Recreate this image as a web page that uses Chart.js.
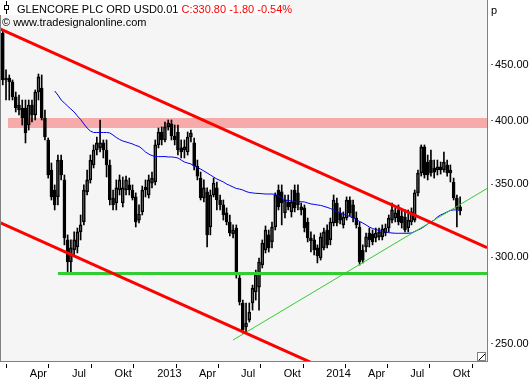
<!DOCTYPE html>
<html>
<head>
<meta charset="utf-8">
<script src="https://cdn.jsdelivr.net/npm/chart.js@4.4.1/dist/chart.umd.min.js"></script>
<style>
  html, body { margin: 0; padding: 0; background: #fff; }
  canvas { display: block; }
</style>
</head>
<body>
<canvas id="chart" width="531" height="380"></canvas>
<script>
// weekly candles, first week and then one every 7 days
const firstWeek = '2012-02-07';

const open = [481.1, 435.8, 437.6, 434.0, 420.5, 413.4, 410.8, 410.8, 396.4, 413.4,
  404.8, 424.9, 428.5, 402.3, 384.1, 360.6, 345.7, 340.7, 368.2, 353.1,
  311.2, 297.1, 304.7, 306.6, 316.5, 323.2, 344.3, 353.1, 364.4, 376.1,
  377.7, 381.7, 376.1, 364.4, 339.9, 336.4, 345.7, 336.4, 345.7, 349.4,
  345.7, 340.7, 324.5, 330.1, 347.9, 342.1, 350.8, 351.6, 380.1, 390.6,
  384.1, 394.8, 397.3, 387.3, 390.6, 377.7, 376.1, 374.5, 386.5, 381.7,
  363.6, 354.5, 339.9, 344.3, 319.8, 342.1, 347.2, 338.5, 335.0, 329.4,
  323.2, 315.2, 319.1, 287.2, 272.5, 259.1, 262.9, 272.5, 278.9, 281.8,
  295.2, 304.7, 314.5, 309.9, 319.8, 345.7, 344.3, 329.4, 337.1, 330.1,
  345.7, 343.6, 331.5, 332.9, 323.2, 312.5, 311.2, 306.0, 299.6, 306.0,
  317.8, 311.2, 322.5, 336.4, 329.4, 321.2, 325.9, 338.5, 335.0, 325.9,
  319.8, 304.7, 306.6, 315.8, 315.2, 312.5, 313.2, 313.2, 315.8, 319.1,
  324.5, 325.9, 331.5, 327.3, 326.6, 319.1, 323.2, 324.5, 343.6, 358.3,
  378.5, 366.7, 368.2, 362.1, 360.6, 362.9, 360.6, 364.4, 358.3, 351.6,
  339.9, 333.6];

const high = [484.2, 445.1, 440.4, 435.8, 424.9, 422.2, 417.8, 417.8, 417.8, 417.8,
  426.7, 441.3, 440.4, 409.1, 385.7, 365.9, 349.4, 372.1, 372.1, 356.8,
  314.5, 311.2, 316.5, 319.1, 328.0, 349.4, 360.6, 372.1, 380.1, 386.5,
  400.6, 384.1, 384.1, 368.2, 345.7, 353.1, 356.8, 355.3, 356.0, 354.5,
  349.4, 343.6, 335.0, 348.6, 353.1, 356.8, 359.0, 384.1, 393.9, 394.8,
  398.9, 400.6, 400.6, 396.4, 396.4, 384.1, 384.1, 390.6, 392.2, 385.7,
  368.2, 359.0, 353.1, 347.2, 345.7, 354.5, 351.6, 342.1, 338.5, 332.9,
  328.0, 321.2, 321.2, 289.1, 274.2, 272.5, 272.5, 283.0, 292.1, 299.6,
  311.2, 320.5, 317.8, 323.2, 343.6, 349.4, 349.4, 342.1, 342.1, 345.7,
  349.4, 349.4, 336.4, 335.0, 325.9, 316.5, 314.5, 308.0, 315.8, 319.1,
  321.2, 325.9, 342.1, 339.9, 332.9, 330.1, 340.7, 340.7, 338.5, 330.1,
  323.2, 308.0, 315.8, 319.1, 317.8, 319.1, 319.1, 321.2, 321.8, 328.0,
  336.4, 332.9, 335.0, 331.5, 331.5, 331.5, 332.9, 345.7, 360.6, 380.1,
  380.1, 372.1, 376.1, 368.2, 368.2, 366.7, 374.5, 368.2, 364.4, 354.5,
  342.1, 340.7];

const low = [431.3, 417.8, 417.8, 417.8, 407.4, 404.8, 396.4, 381.7, 392.2, 398.9,
  400.6, 417.8, 400.6, 384.1, 354.5, 338.5, 331.5, 335.0, 353.1, 308.0,
  290.3, 290.3, 301.5, 302.8, 311.2, 321.2, 342.1, 350.8, 362.1, 372.1,
  374.5, 369.8, 355.3, 335.0, 331.5, 331.5, 342.1, 333.6, 342.1, 342.1,
  338.5, 319.8, 322.5, 328.0, 340.7, 339.9, 347.2, 349.4, 377.7, 380.1,
  382.5, 392.2, 384.1, 380.1, 372.1, 369.8, 369.8, 372.1, 382.5, 360.6,
  353.1, 338.5, 337.1, 306.6, 314.5, 340.7, 331.5, 331.5, 324.5, 321.2,
  313.9, 312.5, 287.2, 271.4, 255.8, 256.4, 261.8, 268.5, 274.2, 268.5,
  293.4, 302.8, 303.4, 306.0, 317.8, 331.5, 321.2, 325.9, 331.5, 326.6,
  330.1, 331.5, 328.0, 316.5, 309.9, 303.4, 301.5, 296.5, 298.3, 304.7,
  306.0, 308.0, 320.5, 320.5, 321.8, 319.1, 324.5, 327.3, 323.2, 319.1,
  295.2, 296.5, 303.4, 306.6, 308.0, 309.9, 311.2, 311.2, 313.9, 316.5,
  322.5, 323.2, 321.2, 319.1, 316.5, 316.5, 321.2, 323.2, 341.4, 356.0,
  354.5, 353.1, 356.0, 354.5, 356.8, 357.5, 359.0, 356.0, 351.6, 338.5,
  319.8, 328.0];

const close = [435.8, 437.6, 434.0, 420.5, 410.8, 409.1, 402.3, 389.8, 413.4, 404.8,
  424.9, 438.6, 402.3, 386.5, 356.8, 340.7, 335.0, 368.2, 356.8, 312.5,
  297.1, 306.0, 311.2, 316.5, 321.2, 345.7, 353.1, 368.2, 376.1, 381.7,
  381.7, 376.1, 364.4, 338.5, 335.0, 347.2, 353.1, 347.2, 353.1, 345.7,
  339.9, 323.2, 328.7, 345.7, 345.7, 353.1, 354.5, 380.1, 390.6, 384.1,
  394.8, 398.1, 387.3, 384.1, 376.1, 374.5, 378.5, 386.5, 389.8, 363.6,
  356.0, 339.9, 347.2, 314.5, 342.1, 350.8, 338.5, 335.0, 328.0, 323.2,
  315.8, 317.8, 289.1, 273.1, 257.5, 261.3, 267.4, 281.2, 289.1, 297.1,
  309.2, 317.8, 306.0, 319.8, 342.1, 333.6, 336.4, 338.5, 333.6, 337.1,
  332.9, 335.0, 333.6, 319.1, 312.5, 310.5, 304.7, 300.9, 313.2, 316.5,
  308.0, 323.2, 338.5, 322.5, 324.5, 326.6, 338.5, 329.4, 325.9, 321.2,
  297.1, 298.3, 313.2, 311.2, 309.9, 315.8, 316.5, 318.5, 319.1, 325.9,
  331.5, 329.4, 323.2, 322.5, 317.8, 324.5, 330.1, 343.6, 358.3, 378.5,
  356.8, 356.8, 358.3, 359.0, 362.9, 360.6, 366.7, 358.3, 360.6, 339.9,
  332.6, 330.8];

// blue moving average, starts at week 16
const movingAvg = [null, null, null, null, null, null, null, null, null, null,
  null, null, null, null, null, null,
  425.8, 422.2, 417.8, 415.2, 412.5, 409.9, 407.4, 404.0, 401.0, 397.3,
  393.9, 391.4, 390.2, 390.2, 390.2, 390.2, 390.2, 389.8, 388.1, 386.1,
  384.5, 383.3, 382.5, 381.7, 380.9, 379.7, 378.9, 376.9, 374.5, 372.9,
  371.7, 370.9, 370.9, 370.9, 370.9, 370.6, 370.6, 370.3, 369.8, 368.2,
  366.7, 365.9, 365.2, 363.6, 362.5, 361.3, 359.8, 358.3, 356.8, 355.3,
  353.8, 352.7, 351.6, 350.1, 349.0, 347.9, 346.8, 346.4, 345.7, 344.6,
  343.9, 343.6, 343.3, 343.2, 343.0, 342.8, 342.8, 342.8, 342.5, 341.4,
  339.9, 338.5, 338.2, 337.8, 337.5, 337.3, 337.3, 337.1, 336.4, 335.7,
  335.4, 335.0, 334.7, 334.0, 333.3, 332.5, 331.5, 330.4, 329.4, 328.4,
  327.7, 327.0, 325.9, 324.9, 323.5, 322.5, 321.2, 319.8, 318.8, 318.1,
  317.5, 316.8, 316.5, 316.0, 315.8, 315.6, 315.6, 315.6, 315.6, 315.6,
  315.8, 316.8, 317.8, 318.8, 320.2, 321.8, 323.2, 324.5, 326.6, 328.0,
  329.0, 330.1, 331.1, 331.5, 331.5, 331.5];

const tickDates = ['2012-04-01', '2012-07-01', '2012-10-01', '2013-01-01', '2013-04-01', '2013-07-01',
  '2013-10-01', '2014-01-01', '2014-04-01', '2014-07-01', '2014-10-01'];
const tickLabels = ['Apr', 'Jul', 'Okt', '2013', 'Apr', 'Jul', 'Okt', '2014', 'Apr', 'Jul', 'Okt'];
const priceTicks = [250, 300, 350, 400, 450];

// drawn lines: [value at start, value at end]
const upperChannel = [485.2, 306.2];
const lowerChannel = [322.7, 203.6];
const supportLevel = 290.0, supportFrom = '2012-06-05';
const trendLine = [252.1, 346.8], trendFrom = '2013-06-18';
const resistanceBand = [393.9, 402.3], bandFrom = '2012-02-18';
const xFrom = '2012-02-01', xTo = '2014-12-18';
const yFrom = 241.2, yTo = 515.7;

const day = s => (Date.parse(s) - Date.parse('2013-01-01')) / 864e5;
const weeks = close.map((c, i) => day(firstWeek) + 7 * i);
const seg = (from, to, a, b) => [{ x: day(from), y: a }, { x: day(to), y: b }];

const FONT = '"Liberation Sans", Arial, sans-serif';
Chart.defaults.font.family = FONT;
Chart.defaults.font.size = 11;
Chart.defaults.color = '#000';

const frame = {
  id: 'frame',
  beforeDraw(chart) {
    const { ctx, chartArea: a } = chart;
    ctx.save();
    ctx.fillStyle = '#fff';
    ctx.fillRect(0, 0, chart.width, chart.height);
    ctx.fillStyle = '#f5f5f5';
    ctx.fillRect(a.left, a.top, a.right - a.left, a.bottom - a.top);
    ctx.restore();
  },
  afterDraw(chart) {
    const { ctx, chartArea: a } = chart;
    ctx.save();
    ctx.strokeStyle = '#808080';
    ctx.lineWidth = 1;
    ctx.beginPath();
    ctx.moveTo(a.left + 0.5, a.top);
    ctx.lineTo(a.left + 0.5, a.bottom);
    ctx.stroke();

    // title box
    ctx.fillStyle = '#fff';
    ctx.fillRect(0, 0, 281, 15);
    ctx.strokeStyle = '#000';
    ctx.beginPath();
    ctx.moveTo(6.5, 1); ctx.lineTo(6.5, 14);
    ctx.stroke();
    ctx.fillStyle = '#fff';
    ctx.fillRect(4, 5, 5, 5);
    ctx.strokeRect(4.5, 5.5, 4, 4);

    ctx.font = '11px ' + FONT;
    ctx.textBaseline = 'alphabetic';
    ctx.fillStyle = '#000';
    const name = 'GLENCORE PLC ORD USD0.01 ';
    ctx.fillText(name, 17, 13);
    ctx.fillStyle = '#ff0000';
    ctx.fillText('C:330.80 -1.80 -0.54%', 17 + ctx.measureText(name).width, 13);
    ctx.fillStyle = '#000';
    ctx.fillText('\u00a9 www.tradesignalonline.com', 2, 26);
    ctx.fillText('p', a.right + 4, 14);

    // resize grip
    ctx.fillStyle = '#fff';
    ctx.fillRect(a.right - 10, a.bottom - 9, 9, 9);
    ctx.strokeStyle = '#808080';
    ctx.strokeRect(a.right - 9.5, a.bottom - 8.5, 8, 8);
    ctx.strokeStyle = '#000';
    ctx.beginPath();
    ctx.moveTo(a.right - 8, a.bottom - 1);
    ctx.lineTo(a.right - 2, a.bottom - 7);
    ctx.stroke();
    ctx.restore();
  }
};

const line = (data, color, width, order) => ({
  type: 'line', data, borderColor: color, borderWidth: width,
  pointRadius: 0, tension: 0, fill: false, order
});

const bar = (data, thick, extra) => Object.assign({
  type: 'bar', data, barThickness: thick, grouped: false, borderSkipped: false
}, extra);

new Chart(document.getElementById('chart'), {
  data: {
    datasets: [
      Object.assign(line(seg(bandFrom, xTo, resistanceBand[1], resistanceBand[1]), 'rgba(0,0,0,0)', 0, 20),
        { fill: '+1', backgroundColor: '#f6aaaa' }),
      line(seg(bandFrom, xTo, resistanceBand[0], resistanceBand[0]), 'rgba(0,0,0,0)', 0, 19),
      bar(weeks.map((x, i) => ({ x, y: [low[i], Math.min(open[i], close[i])] })), 1,
        { backgroundColor: '#000', borderWidth: 0, order: 10 }),
      bar(weeks.map((x, i) => ({ x, y: [Math.max(open[i], close[i]), high[i]] })), 1,
        { backgroundColor: '#000', borderWidth: 0, order: 10 }),
      bar(weeks.map((x, i) => ({ x, y: [open[i], close[i]] })), 3, {
        backgroundColor: close.map((c, i) => c >= open[i] ? 'rgba(0,0,0,0)' : '#000'),
        borderColor: '#000', borderWidth: 1, order: 9
      }),
      line(weeks.map((x, i) => ({ x, y: movingAvg[i] })), '#0000ee', 1, 5),
      line(seg(trendFrom, xTo, trendLine[0], trendLine[1]), '#33cc33', 1, 4),
      line(seg(supportFrom, xTo, supportLevel, supportLevel), '#33cc33', 3, 3),
      line(seg(xFrom, xTo, upperChannel[0], upperChannel[1]), '#ff0000', 3, 2),
      line(seg(xFrom, xTo, lowerChannel[0], lowerChannel[1]), '#ff0000', 3, 2)
    ]
  },
  options: {
    responsive: false,
    devicePixelRatio: 1,
    animation: false,
    events: [],
    layout: { padding: 0 },
    plugins: { legend: { display: false }, tooltip: { enabled: false } },
    scales: {
      x: {
        type: 'linear', offset: false,
        min: day(xFrom), max: day(xTo),
        afterBuildTicks: s => { s.ticks = tickDates.map(d => ({ value: day(d) })); },
        afterFit: s => { s.height = 19; s.paddingLeft = 0; s.paddingRight = 0; },
        grid: {
          drawOnChartArea: false, tickLength: 7, tickColor: '#000',
          tickBorderDash: [0, 2, 5, 20]
        },
        border: { display: true, color: '#808080' },
        ticks: {
          autoSkip: false, maxRotation: 0, align: 'start', labelOffset: 2, padding: 0,
          font: { size: 11, lineHeight: 1 },
          callback: (v, i) => tickLabels[i]
        }
      },
      y: {
        type: 'logarithmic', position: 'right',
        min: yFrom, max: yTo,
        afterBuildTicks: s => { s.ticks = priceTicks.map(v => ({ value: v })); },
        afterFit: s => { s.width = 44; s.paddingTop = 0; s.paddingBottom = 0; },
        grid: {
          drawOnChartArea: false, tickLength: 6, tickColor: '#606060',
          tickBorderDash: [0, 3, 3, 20]
        },
        border: { display: true, color: '#808080' },
        ticks: {
          autoSkip: false, padding: 2,
          callback: v => Number(v).toFixed(2)
        }
      }
    }
  },
  plugins: [frame]
});
</script>
</body>
</html>
